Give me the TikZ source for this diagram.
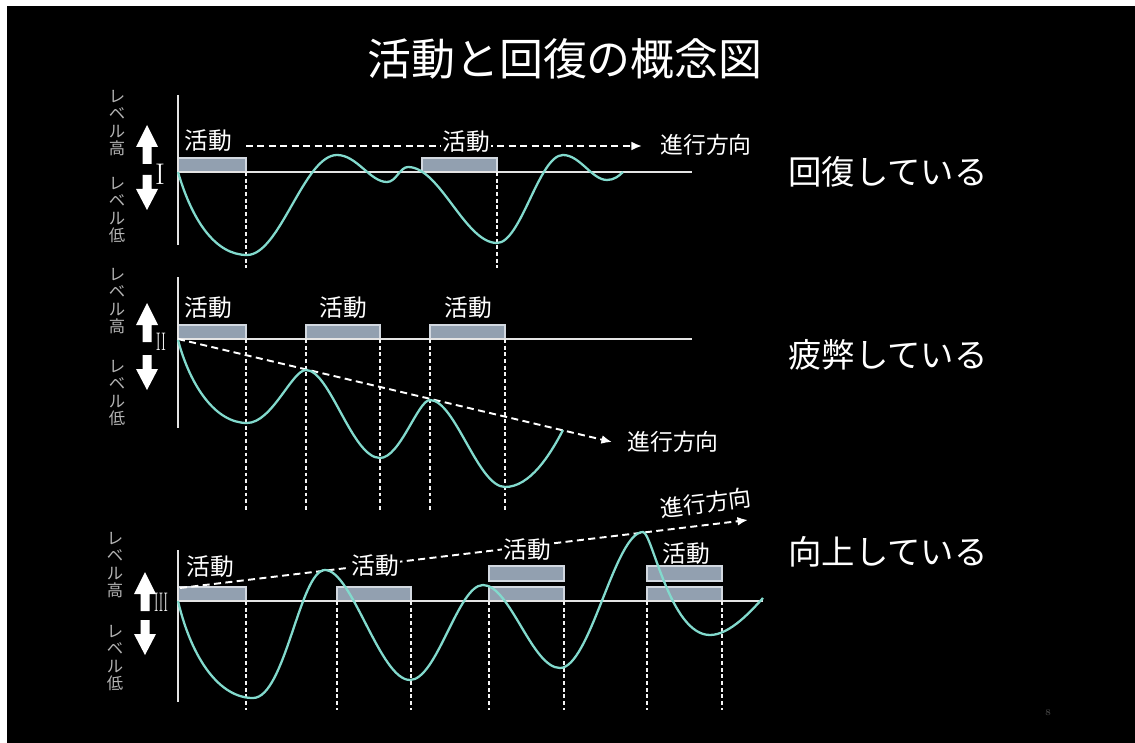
\documentclass[tikz,border=0pt]{standalone}
\usepackage{fontspec}
\usepackage{graphicx}
\usetikzlibrary{arrows.meta}
\newfontfamily\jp{Noto Sans CJK JP}
\definecolor{curvec}{RGB}{130,218,205}
\definecolor{boxfill}{RGB}{146,160,176}
\definecolor{boxline}{RGB}{210,216,224}
\definecolor{levelc}{RGB}{180,180,180}
\definecolor{linec}{RGB}{228,228,228}
\definecolor{pagenum}{RGB}{80,80,80}
\begin{document}
\begin{tikzpicture}[x=0.02cm,y=-0.02cm,
  actbox/.style={draw=boxline, fill=boxfill, line width=0.8pt},
  baseln/.style={draw=linec, line width=1.1pt},
  axisln/.style={draw=linec, line width=1.1pt},
  dotln/.style={draw=white!90!gray, line width=0.9pt, dash pattern=on 2.2pt off 1.6pt},
  dirln/.style={draw=white, line width=1.1pt, dash pattern=on 4pt off 2.5pt, -{Latex[length=6pt,width=5pt]}},
  wave/.style={draw=curvec, line width=1.3pt},
  actlbl/.style={text=white, font=\jp\fontsize{13.5}{14}\selectfont, inner sep=1pt},
  blk/.style={fill=black},
  dirlbl/.style={text=white, font=\jp\fontsize{13}{14}\selectfont, inner sep=0pt},
  level/.style={text=levelc, font=\jp\fontsize{9.3}{9.8}\selectfont, align=center, inner sep=0pt},
  state/.style={text=white, font=\jp\fontsize{19}{22}\selectfont, anchor=west, inner sep=0pt},
  roman/.style={text=white, font=\fontsize{17}{18}\selectfont, inner sep=0pt},
  uparr/.pic={\fill[white] (0,0) -- (11,22) -- (4.5,22) -- (4.5,39) -- (-4.5,39) -- (-4.5,22) -- (-11,22) -- cycle;},
  dnarr/.pic={\fill[white] (0,0) -- (11,-21) -- (4.5,-21) -- (4.5,-35) -- (-4.5,-35) -- (-4.5,-21) -- (-11,-21) -- cycle;},
]
\useasboundingbox (0,0) rectangle (1135,743);
\fill[white] (0,0) rectangle (1135,743);
\fill[black] (7,6) rectangle (1135,743);

% title
\node[text=white, font=\jp\fontsize{25}{28}\selectfont, inner sep=0pt] (title) at (565,59) {活動と回復の概念図};

% ---------- Panel I ----------
\draw[actbox] (178,158) rectangle (246,172);
\draw[actbox] (422,158) rectangle (497,172);
\draw[baseln] (178,172) -- (692,172);
\draw[axisln] (178,95) -- (178,245);
\draw[dotln] (246,172) -- (246,268);
\draw[dotln] (497,172) -- (497,268);
\coordinate (d1s) at (246,146);
\coordinate (d1e) at (642,146);
\draw[dirln] (d1s) -- (d1e);
\node[actlbl] (a11) at (208,141) {活動};
\node[actlbl, blk] (a12) at (466,142) {活動};
\node[dirlbl] (g1) at (706,145) {進行方向};
\draw[wave] (178,172) .. controls (192,220) and (215,255) .. (247,255)
  .. controls (280,255) and (304,155) .. (337,155)
  .. controls (357,155) and (370,182) .. (387,182)
  .. controls (396,182) and (400,167) .. (408,167)
  .. controls (440,167) and (465,243) .. (497,243)
  .. controls (521,243) and (539,155) .. (563,155)
  .. controls (580,155) and (592,180) .. (607,180)
  .. controls (614,180) and (619,176) .. (623,172);
\pic at (147,125) {uparr};
\pic at (147,210) {dnarr};
\node[roman] (r1) at (160,174) {I};
\node[level] (l1h) at (117,123) {レ\\ベ\\ル\\高};
\node[level] (l1l) at (117,210) {レ\\ベ\\ル\\低};
\node[state] (s1) at (788,172) {回復している};

% ---------- Panel II ----------
\draw[actbox] (178,325) rectangle (246,339);
\draw[actbox] (306,325) rectangle (380,339);
\draw[actbox] (430,325) rectangle (505,339);
\draw[baseln] (178,339) -- (692,339);
\draw[axisln] (178,277) -- (178,428);
\foreach \xx in {246,306,380,430,505} \draw[dotln] (\xx,339) -- (\xx,510);
\coordinate (d2s) at (178,339);
\coordinate (d2e) at (612,442);
\draw[dirln] (d2s) -- (d2e);
\node[actlbl] (a21) at (208,308) {活動};
\node[actlbl] (a22) at (343,308) {活動};
\node[actlbl] (a23) at (468,308) {活動};
\node[dirlbl] (g2) at (673,442) {進行方向};
\draw[wave] (178,340) .. controls (190,385) and (215,423) .. (247,423)
  .. controls (272,423) and (292,370) .. (306,370)
  .. controls (330,370) and (352,458) .. (380,458)
  .. controls (400,458) and (418,400) .. (430,400)
  .. controls (455,400) and (478,487) .. (505,487)
  .. controls (530,487) and (550,455) .. (563,430);
\pic at (147,303) {uparr};
\pic at (147,390) {dnarr};
\node[roman] (r2) at (161,342) {\scalebox{0.5}[0.85]{II}};
\node[level] (l2h) at (117,301) {レ\\ベ\\ル\\高};
\node[level] (l2l) at (117,393) {レ\\ベ\\ル\\低};
\node[state] (s2) at (788,355) {疲弊している};

% ---------- Panel III ----------
\draw[actbox] (178,587) rectangle (246,601);
\draw[actbox] (337,587) rectangle (411,601);
\draw[actbox] (489,587) rectangle (564,601);
\draw[actbox] (489,566) rectangle (564,581);
\draw[actbox] (647,587) rectangle (722,601);
\draw[actbox] (647,566) rectangle (722,581);
\draw[baseln] (178,601) -- (763,601);
\draw[axisln] (178,550) -- (178,702);
\foreach \xx in {246,337,411,489,564,647,722} \draw[dotln] (\xx,601) -- (\xx,710);
\coordinate (d3s) at (180,588);
\coordinate (d3e) at (748,520);
\draw[dirln] (d3s) -- (d3e);
\node[actlbl] (a31) at (210,567) {活動};
\node[actlbl, blk] (a32) at (375,566) {活動};
\node[actlbl, blk] (a33) at (527,550) {活動};
\node[actlbl] (a34) at (686,554) {活動};
\node[dirlbl, rotate=7] (g3) at (706,503) {進行方向};
\draw[wave] (178,601) .. controls (192,660) and (220,698) .. (253,698)
  .. controls (285,698) and (300,570) .. (325,570)
  .. controls (352,570) and (380,680) .. (410,680)
  .. controls (437,680) and (458,585) .. (483,585)
  .. controls (510,585) and (532,668) .. (560,668)
  .. controls (590,668) and (615,532) .. (643,532)
  .. controls (652,532) and (670,635) .. (710,635)
  .. controls (730,635) and (752,610) .. (763,598);
\pic at (145,572) {uparr};
\pic at (145,655) {dnarr};
\node[roman] (r3) at (161,602) {\scalebox{0.45}[0.9]{III}};
\node[level] (l3h) at (115,565) {レ\\ベ\\ル\\高};
\node[level] (l3l) at (115,658) {レ\\ベ\\ル\\低};
\node[state] (s3) at (788,552) {向上している};

% page number
\node[text=pagenum, font=\fontsize{5}{6}\selectfont, inner sep=0pt] (pg) at (1048,713) {8};
\end{tikzpicture}
\end{document}
